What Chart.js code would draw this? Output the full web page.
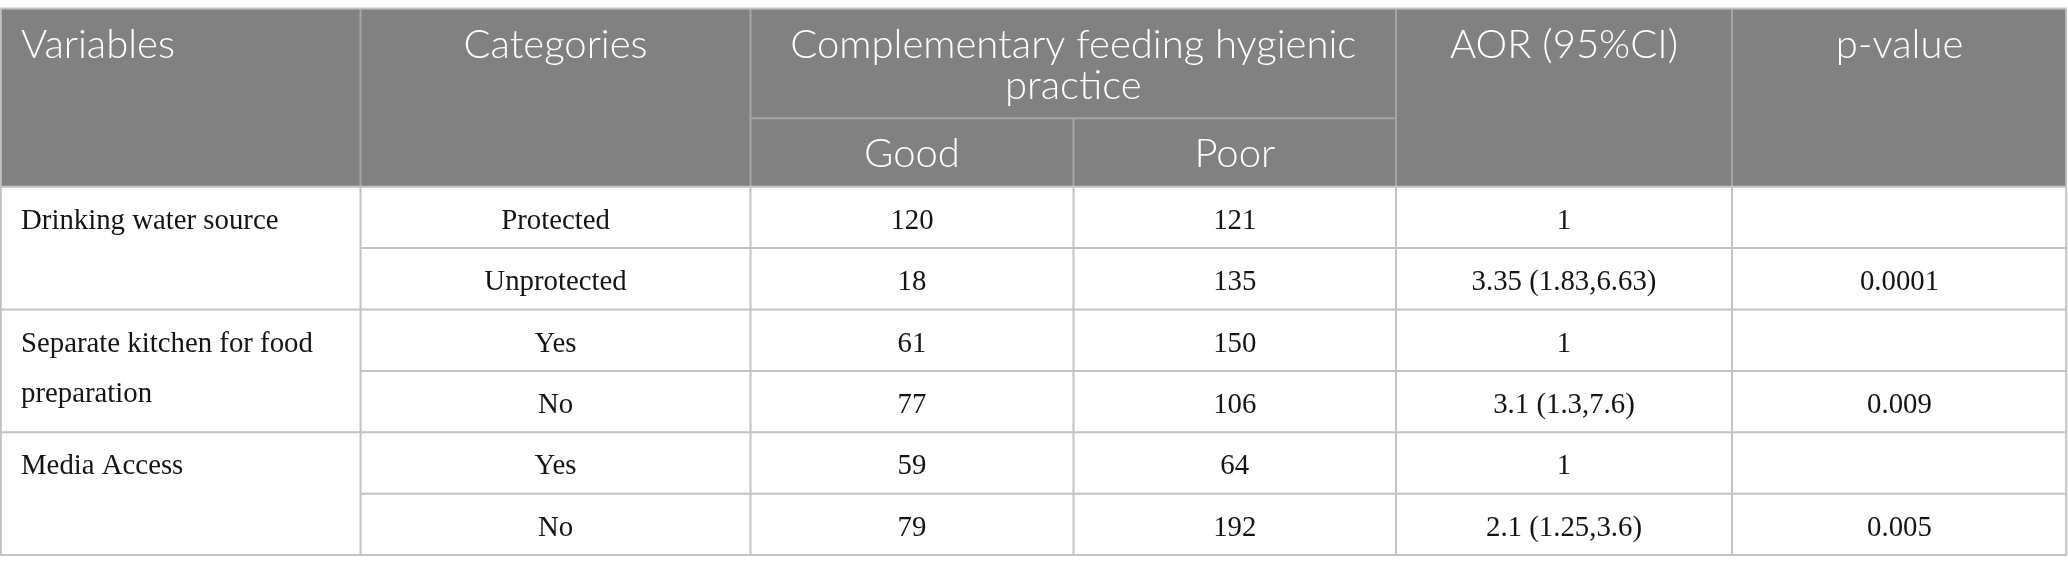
<!DOCTYPE html>
<html>
<head>
<meta charset="utf-8">
<script src="https://cdn.jsdelivr.net/npm/chart.js@4/dist/chart.umd.min.js"></script>
<style>
  html, body { margin: 0; padding: 0; background: #ffffff; }
  #wrap { width: 2068px; height: 574px; position: relative; }
</style>
</head>
<body>
<div id="wrap"><canvas id="c"></canvas></div>
<script>
// ---- data ----
const headers = ['Variables', 'Categories', 'Complementary feeding hygienic practice', 'AOR (95%CI)', 'p-value'];
const subHeaders = ['Good', 'Poor'];
const variables = ['Drinking water source', 'Separate kitchen for food preparation', 'Media Access'];
const categories = ['Protected', 'Unprotected', 'Yes', 'No', 'Yes', 'No'];
const goodCounts = [120, 18, 61, 77, 59, 79];
const poorCounts = [121, 135, 150, 106, 64, 192];
const aorValues = ['1', '3.35 (1.83,6.63)', '1', '3.1 (1.3,7.6)', '1', '2.1 (1.25,3.6)'];
const pValues = ['', '0.0001', '', '0.009', '', '0.005'];

// ---- layout / style (not data) ----
const colWidths = [360.5, 390, 323, 322.5, 336, 335];
const tableTop = 8.5;
const headerHeight = 178.2;
const headerRow1Height = 109.8;
const rowHeight = 61.4;
const headerBg = '#808180';
const headerLine = '#a4a5a4';
const bodyLine = '#c2c2c2';
const headerFont = '300 40px Lato';
const bodyFont = '28.8px "Liberation Serif"';
const cellPadding = 20;

const nRows = categories.length;
const totalW = colWidths.reduce((a, b) => a + b, 0);
const totalH = tableTop + headerHeight + nRows * rowHeight;
const colEdges = [0];
colWidths.forEach(w => colEdges.push(colEdges[colEdges.length - 1] + w));
const bodyTop = tableTop + headerHeight;

function wrap(ctx, text, maxW) {
  const words = text.split(' ');
  const lines = [];
  let cur = '';
  words.forEach(w => {
    const t = cur ? cur + ' ' + w : w;
    if (ctx.measureText(t).width > maxW && cur) { lines.push(cur); cur = w; }
    else cur = t;
  });
  if (cur) lines.push(cur);
  return lines;
}

const tablePlugin = {
  id: 'tablePlugin',
  afterDraw(chart) {
    const ctx = chart.ctx;
    const xs = chart.scales.x, ys = chart.scales.y;
    const X = v => xs.getPixelForValue(v);
    const Y = v => ys.getPixelForValue(v);
    ctx.save();

    // header background
    ctx.fillStyle = headerBg;
    ctx.fillRect(X(0), Y(tableTop), X(totalW) - X(0), Y(bodyTop) - Y(tableTop));

    function line(x1, y1, x2, y2, color, w) {
      ctx.strokeStyle = color; ctx.lineWidth = w || 2;
      ctx.beginPath(); ctx.moveTo(X(x1), Y(y1)); ctx.lineTo(X(x2), Y(y2)); ctx.stroke();
    }

    // header lines
    const subY = tableTop + headerRow1Height;
    [1, 2, 4, 5].forEach(i => line(colEdges[i], tableTop, colEdges[i], bodyTop, headerLine, 2));
    line(colEdges[3], subY, colEdges[3], bodyTop, headerLine, 2);
    line(colEdges[2], subY, colEdges[4], subY, headerLine, 2);

    // top border
    line(0, tableTop, totalW, tableTop, bodyLine, 2);

    // body lines
    for (let r = 0; r <= nRows; r++) {
      const y = bodyTop + r * rowHeight;
      const startX = (r % 2 === 0) ? 0 : colEdges[1];
      line(startX, y, totalW, y, bodyLine, 2);
    }
    for (let i = 1; i < colEdges.length - 1; i++) line(colEdges[i], bodyTop, colEdges[i], totalH, bodyLine, 2);
    line(0.8, tableTop, 0.8, totalH, bodyLine, 2);
    line(totalW - 0.8, tableTop, totalW - 0.8, totalH, bodyLine, 2);

    // header text
    ctx.fillStyle = '#ffffff';
    ctx.font = headerFont;
    ctx.textBaseline = 'alphabetic';
    const hBase = tableTop + 49.5;
    const hSpan = [[0, 1], [1, 2], [2, 4], [4, 5], [5, 6]];
    headers.forEach((h, i) => {
      const [a, b] = hSpan[i];
      const maxW = (colEdges[b] - colEdges[a]) - 2 * cellPadding;
      const lines = wrap(ctx, h, maxW);
      lines.forEach((ln, k) => {
        if (i === 0) { ctx.textAlign = 'left'; ctx.fillText(ln, X(colEdges[a] + 21), Y(hBase + k * 41)); }
        else { ctx.textAlign = 'center'; ctx.fillText(ln, X((colEdges[a] + colEdges[b]) / 2), Y(hBase + k * 41)); }
      });
    });
    subHeaders.forEach((s, i) => {
      ctx.textAlign = 'center';
      ctx.fillText(s, X((colEdges[2 + i] + colEdges[3 + i]) / 2), Y(tableTop + 158.5));
    });

    // body text
    ctx.fillStyle = '#141414';
    ctx.font = bodyFont;
    variables.forEach((v, g) => {
      ctx.textAlign = 'left';
      const lines = wrap(ctx, v, colWidths[0] - 2 * cellPadding);
      lines.forEach((ln, k) => ctx.fillText(ln, X(21), Y(bodyTop + g * 2 * rowHeight + 42 + k * 50)));
    });
    const cols = [categories, goodCounts, poorCounts, aorValues, pValues];
    cols.forEach((arr, c) => {
      arr.forEach((val, r) => {
        if (val === '' || val === null) return;
        ctx.textAlign = 'center';
        ctx.fillText(String(val), X((colEdges[c + 1] + colEdges[c + 2]) / 2), Y(bodyTop + r * rowHeight + 42));
      });
    });
    ctx.restore();
  }
};

new Chart(document.getElementById('c'), {
  type: 'scatter',
  data: { datasets: [] },
  options: {
    responsive: true,
    maintainAspectRatio: false,
    animation: false,
    events: [],
    layout: { padding: 0 },
    plugins: { legend: { display: false }, tooltip: { enabled: false } },
    scales: {
      x: { type: 'linear', min: 0, max: 2068, display: false },
      y: { type: 'linear', min: 0, max: 574, reverse: true, display: false }
    }
  },
  plugins: [tablePlugin]
});
</script>
</body>
</html>
